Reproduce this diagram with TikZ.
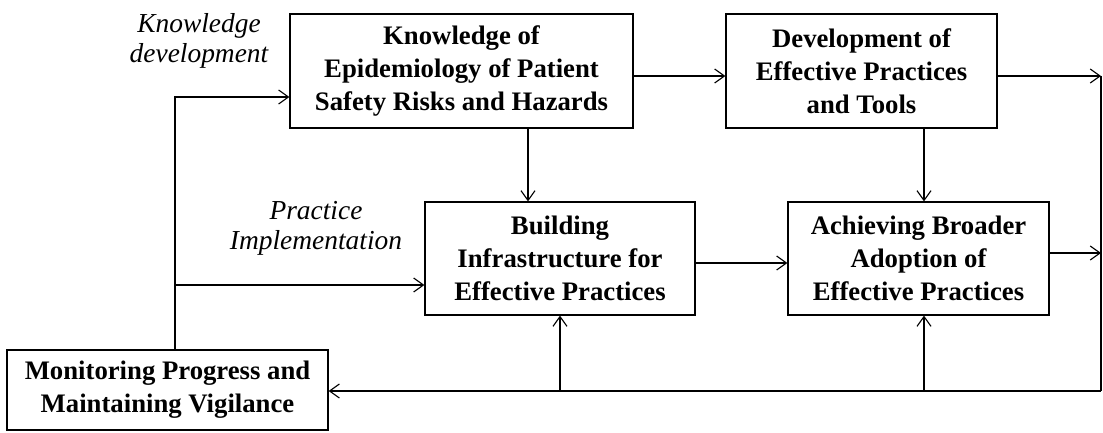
\documentclass[tikz,border=0pt]{standalone}
\usepackage{fontspec}
\setmainfont{Liberation Serif}
\usetikzlibrary{arrows.meta,positioning}

\begin{document}
\begin{tikzpicture}[x=0.025cm,y=-0.025cm,line width=0.8pt,
    >={Straight Barb[length=7pt,width=10pt]},
    block/.style={draw,align=center,inner sep=0pt,
      font=\fontsize{19}{23.5}\selectfont\bfseries},
    note/.style={align=center,font=\fontsize{19.5}{21.5}\selectfont\itshape}]
    \useasboundingbox (0,0) rectangle (1103,433);
    \node[block,minimum width=8.575cm,minimum height=2.85cm] (know) at (461.5,71)
      {Knowledge of\\Epidemiology of Patient\\Safety Risks and Hazards};
    \node[block,minimum width=6.775cm,minimum height=2.85cm] (devel) at (861.5,71)
      {Development of\\Effective Practices\\and Tools};
    \node[block,minimum width=6.75cm,minimum height=2.825cm] (build) at (560,258.5)
      {Building\\Infrastructure for\\Effective Practices};
    \node[block,minimum width=6.525cm,minimum height=2.825cm] (adopt) at (918.5,258.5)
      {Achieving Broader\\Adoption of\\Effective Practices};
    \node[block,minimum width=8.025cm,minimum height=2cm] (monit) at (167.5,390)
      {Monitoring Progress and\\Maintaining Vigilance};
    \node[note] (kdev) at (199,41) {Knowledge\\development};
    \node[note] (pimp) at (316,228) {Practice\\Implementation};
    % helper columns and rows
    \coordinate (left) at (175,97);
    \coordinate (pin) at (175,285);
    \coordinate (rtop) at (1101,76);
    \coordinate (rmid) at (1101,253);
    \coordinate (rbot) at (1101,391);
    \coordinate (col1) at (528,263);
    \coordinate (col2) at (924,0);
    % top edges
    \draw[->] (know.east |- rtop) -- (devel.west |- rtop);
    \draw[->] (devel.east |- rtop) -- (rtop);
    \draw[->] (know.south -| col1) -- (build.north -| col1);
    \draw[->] (devel.south -| col2) -- (adopt.north -| col2);
    % middle edges
    \draw[->] (build.east |- col1) -- (adopt.west |- col1);
    \draw[->] (adopt.east |- rmid) -- (rmid);
    % feedback loop
    \draw (rtop) -- (rbot);
    \draw[->] (rbot) -- (monit.east |- rbot);
    \draw[->] (build.south |- rbot) -- (build.south);
    \draw[->] (col2 |- rbot) -- (adopt.south -| col2);
    \draw[->] (monit.north -| left) -- (left) -- (know.west |- left);
    \draw[->] (pin) -- (build.west |- pin);
\end{tikzpicture}
\end{document}
